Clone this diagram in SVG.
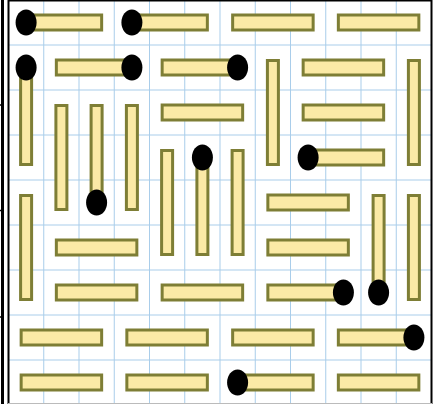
<svg xmlns="http://www.w3.org/2000/svg" width="442" height="404" viewBox="0 0 442 404">
<style>
.grid line{stroke:#a9cdea;stroke-width:1}
.h,.v{fill:#fbeaa6;stroke:#7e7e35;stroke-width:3}
.dot{fill:#000}
.frame{stroke:#000;fill:none}
</style>
<defs>
<rect id="hb" class="h" x="-40.25" y="-7.5" width="80.5" height="15"/>
<rect id="vb" class="v" x="-5.5" y="-52" width="11" height="104"/>
<ellipse id="d" class="dot" rx="10.5" ry="13"/>
</defs>
<rect x="0" y="0" width="442" height="404" fill="#fff"/>
<g class="grid">
<line x1="43.75" y1="0" x2="43.75" y2="404"/><line x1="79" y1="0" x2="79" y2="404"/><line x1="114.25" y1="0" x2="114.25" y2="404"/><line x1="149.5" y1="0" x2="149.5" y2="404"/><line x1="184.75" y1="0" x2="184.75" y2="404"/><line x1="220" y1="0" x2="220" y2="404"/><line x1="255.25" y1="0" x2="255.25" y2="404"/><line x1="290.5" y1="0" x2="290.5" y2="404"/><line x1="325.75" y1="0" x2="325.75" y2="404"/><line x1="361" y1="0" x2="361" y2="404"/><line x1="396.25" y1="0" x2="396.25" y2="404"/>
<line x1="8" y1="45" x2="432" y2="45"/><line x1="8" y1="90" x2="432" y2="90"/><line x1="8" y1="135" x2="432" y2="135"/><line x1="8" y1="180" x2="432" y2="180"/><line x1="8" y1="225" x2="432" y2="225"/><line x1="8" y1="270" x2="432" y2="270"/><line x1="8" y1="315" x2="432" y2="315"/><line x1="8" y1="360" x2="432" y2="360"/>
</g>
<g id="frame">
<line class="frame" x1="2.5" y1="0" x2="2.5" y2="404" stroke-width="3"/>
<line class="frame" x1="8.5" y1="0" x2="8.5" y2="404" stroke-width="2"/>
<line class="frame" x1="8" y1="0.75" x2="432" y2="0.75" stroke-width="1.5"/>
<line class="frame" x1="431.5" y1="0" x2="431.5" y2="404" stroke-width="2"/>
<line x1="8" y1="403.5" x2="432" y2="403.5" stroke="#bbb" stroke-width="1"/>
<line class="frame" x1="0" y1="105" x2="4" y2="105" stroke-width="1.5"/>
<line class="frame" x1="0" y1="210.5" x2="4" y2="210.5" stroke-width="1.5"/>
<line class="frame" x1="0" y1="317" x2="4" y2="317" stroke-width="1.5"/>
</g>
<g id="connectors"></g>
<g id="bars">
<!-- row 0 -->
<g id="h-r0-c0"><use href="#hb" x="61.4" y="22.5"/></g>
<g id="h-r0-c3"><use href="#hb" x="167.1" y="22.5"/></g>
<g id="h-r0-c6"><use href="#hb" x="272.9" y="22.5"/></g>
<g id="h-r0-c9"><use href="#hb" x="378.6" y="22.5"/></g>
<!-- row 1 -->
<g id="h-r1-c1"><use href="#hb" x="96.6" y="67.5"/></g>
<g id="h-r1-c4"><use href="#hb" x="202.4" y="67.5"/></g>
<g id="h-r1-c8"><use href="#hb" x="343.4" y="67.5"/></g>
<g id="v-c0-r1"><use href="#vb" x="26.1" y="112.5"/></g>
<g id="v-c7-r1"><use href="#vb" x="272.9" y="112.5"/></g>
<g id="v-c11-r1"><use href="#vb" x="413.9" y="112.5"/></g>
<!-- row 2 -->
<g id="v-c1-r2"><use href="#vb" x="61.4" y="157.5"/></g>
<g id="v-c2-r2"><use href="#vb" x="96.6" y="157.5"/></g>
<g id="v-c3-r2"><use href="#vb" x="131.9" y="157.5"/></g>
<g id="h-r2-c4"><use href="#hb" x="202.4" y="112.5"/></g>
<g id="h-r2-c8"><use href="#hb" x="343.4" y="112.5"/></g>
<!-- row 3 -->
<g id="v-c4-r3"><use href="#vb" x="167.1" y="202.5"/></g>
<g id="v-c5-r3"><use href="#vb" x="202.4" y="202.5"/></g>
<g id="v-c6-r3"><use href="#vb" x="237.6" y="202.5"/></g>
<g id="h-r3-c8"><use href="#hb" x="343.4" y="157.5"/></g>
<!-- row 4 -->
<g id="v-c0-r4"><use href="#vb" x="26.1" y="247.5"/></g>
<g id="h-r4-c7"><use href="#hb" x="308.1" y="202.5"/></g>
<g id="v-c10-r4"><use href="#vb" x="378.6" y="247.5"/></g>
<g id="v-c11-r4"><use href="#vb" x="413.9" y="247.5"/></g>
<!-- row 5 -->
<g id="h-r5-c1"><use href="#hb" x="96.6" y="247.5"/></g>
<g id="h-r5-c7"><use href="#hb" x="308.1" y="247.5"/></g>
<!-- row 6 -->
<g id="h-r6-c1"><use href="#hb" x="96.6" y="292.5"/></g>
<g id="h-r6-c4"><use href="#hb" x="202.4" y="292.5"/></g>
<g id="h-r6-c7"><use href="#hb" x="308.1" y="292.5"/></g>
<!-- row 7 -->
<g id="h-r7-c0"><use href="#hb" x="61.4" y="337.5"/></g>
<g id="h-r7-c3"><use href="#hb" x="167.1" y="337.5"/></g>
<g id="h-r7-c6"><use href="#hb" x="272.9" y="337.5"/></g>
<g id="h-r7-c9"><use href="#hb" x="378.6" y="337.5"/></g>
<!-- row 8 -->
<g id="h-r8-c0"><use href="#hb" x="61.4" y="382.5"/></g>
<g id="h-r8-c3"><use href="#hb" x="167.1" y="382.5"/></g>
<g id="h-r8-c6"><use href="#hb" x="272.9" y="382.5"/></g>
<g id="h-r8-c9"><use href="#hb" x="378.6" y="382.5"/></g>
</g>
<g id="dots">
<g id="dot-1"><use href="#d" x="26.1" y="22.5"/></g>
<g id="dot-2"><use href="#d" x="131.9" y="22.5"/></g>
<g id="dot-3"><use href="#d" x="26.1" y="67.5"/></g>
<g id="dot-4"><use href="#d" x="131.9" y="67.5"/></g>
<g id="dot-5"><use href="#d" x="237.6" y="67.5"/></g>
<g id="dot-6"><use href="#d" x="202.4" y="157.5"/></g>
<g id="dot-7"><use href="#d" x="308.1" y="157.5"/></g>
<g id="dot-8"><use href="#d" x="96.6" y="202.5"/></g>
<g id="dot-9"><use href="#d" x="343.4" y="292.5"/></g>
<g id="dot-10"><use href="#d" x="378.6" y="292.5"/></g>
<g id="dot-11"><use href="#d" x="413.9" y="337.5"/></g>
<g id="dot-12"><use href="#d" x="237.6" y="382.5"/></g>
</g>
</svg>
